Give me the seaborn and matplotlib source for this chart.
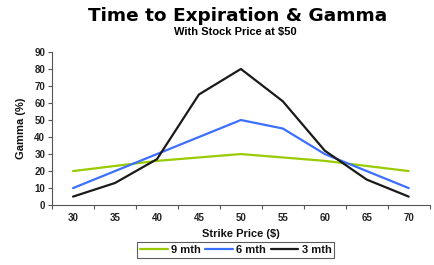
import matplotlib
matplotlib.use("Agg")
import matplotlib.pyplot as plt
import seaborn as sns
import pandas as pd
import numpy as np

strikes = [30, 35, 40, 45, 50, 55, 60, 65, 70]
gamma_9m = [20, 23, 26, 28, 30, 28, 26, 23, 20]
gamma_6m = [10, 20, 30, 40, 50, 45, 30, 20, 10]
gamma_3m = [5, 13, 27, 65, 80, 61, 32, 15, 5]
series_names = ["9 mth", "6 mth", "3 mth"]
colors = ["#99CC00", "#3D6FFF", "#1A1A1A"]

sns.set_theme(style="white")
plt.rcParams['font.family'] = ['Liberation Sans', 'DejaVu Sans']
plt.rcParams['text.color'] = '#111111'

rows = []
for name, vals in zip(series_names, [gamma_9m, gamma_6m, gamma_3m]):
    for i, (s, v) in enumerate(zip(strikes, vals)):
        rows.append({"pos": i, "strike": s, "gamma": v, "series": name})
df = pd.DataFrame(rows)

fig = plt.figure(figsize=(4.34, 2.65), dpi=100)
ax = fig.add_axes([0.12, 0.226, 0.87, 0.578])

sns.lineplot(data=df, x="pos", y="gamma", hue="series", hue_order=series_names,
             palette=colors, ax=ax, linewidth=1.6, legend=False)

ax.set_xlim(-0.5, len(strikes) - 0.5)
ax.set_ylim(0, 90)
ax.set_yticks(range(0, 91, 10))
ax.set_yticklabels([str(v) for v in range(0, 91, 10)], fontsize=7, fontweight="bold", color="#222222")
ax.set_xticks(range(len(strikes)))
ax.set_xticklabels([str(s) for s in strikes], fontsize=7, fontweight="bold", color="#222222")
ax.tick_params(axis="x", which="major", length=0, pad=6)
ax.set_xticks(np.arange(-0.5, len(strikes), 1.0), minor=True)
ax.tick_params(axis="x", which="minor", length=3, width=0.8, color="#555555", direction="out", bottom=True)
ax.tick_params(axis="y", which="major", length=3, width=0.8, color="#555555", direction="out", left=True, pad=2)

for side in ["top", "right"]:
    ax.spines[side].set_visible(False)
for side in ["left", "bottom"]:
    ax.spines[side].set_color("#555555")
    ax.spines[side].set_linewidth(0.8)

ax.set_xlabel("Strike Price ($)", fontsize=8, fontweight="bold", labelpad=4, color="#111111")
ax.set_ylabel("Gamma (%)", fontsize=8, fontweight="bold", labelpad=6, color="#111111")

fig.text(0.548, 0.922, "Time to Expiration & Gamma", ha="center", va="baseline",
         fontsize=13.3, fontweight="bold", family=["DejaVu Sans"], color="#000000")
fig.text(0.543, 0.868, "With Stock Price at $50", ha="center", va="baseline",
         fontsize=8, fontweight="bold", color="#000000")

handles = [plt.Line2D([0], [0], color=c, lw=1.6) for c in colors]
leg = fig.legend(handles, series_names, loc="center", bbox_to_anchor=(0.543, 0.057),
                 ncol=3, frameon=True, fancybox=False, prop={"size": 8, "weight": "bold"},
                 handlelength=2.5, handletextpad=0.3, columnspacing=0.4, borderpad=0.25)
leg.get_frame().set_edgecolor("#333333")
leg.get_frame().set_linewidth(0.8)

fig.savefig("out.png", dpi=100)
